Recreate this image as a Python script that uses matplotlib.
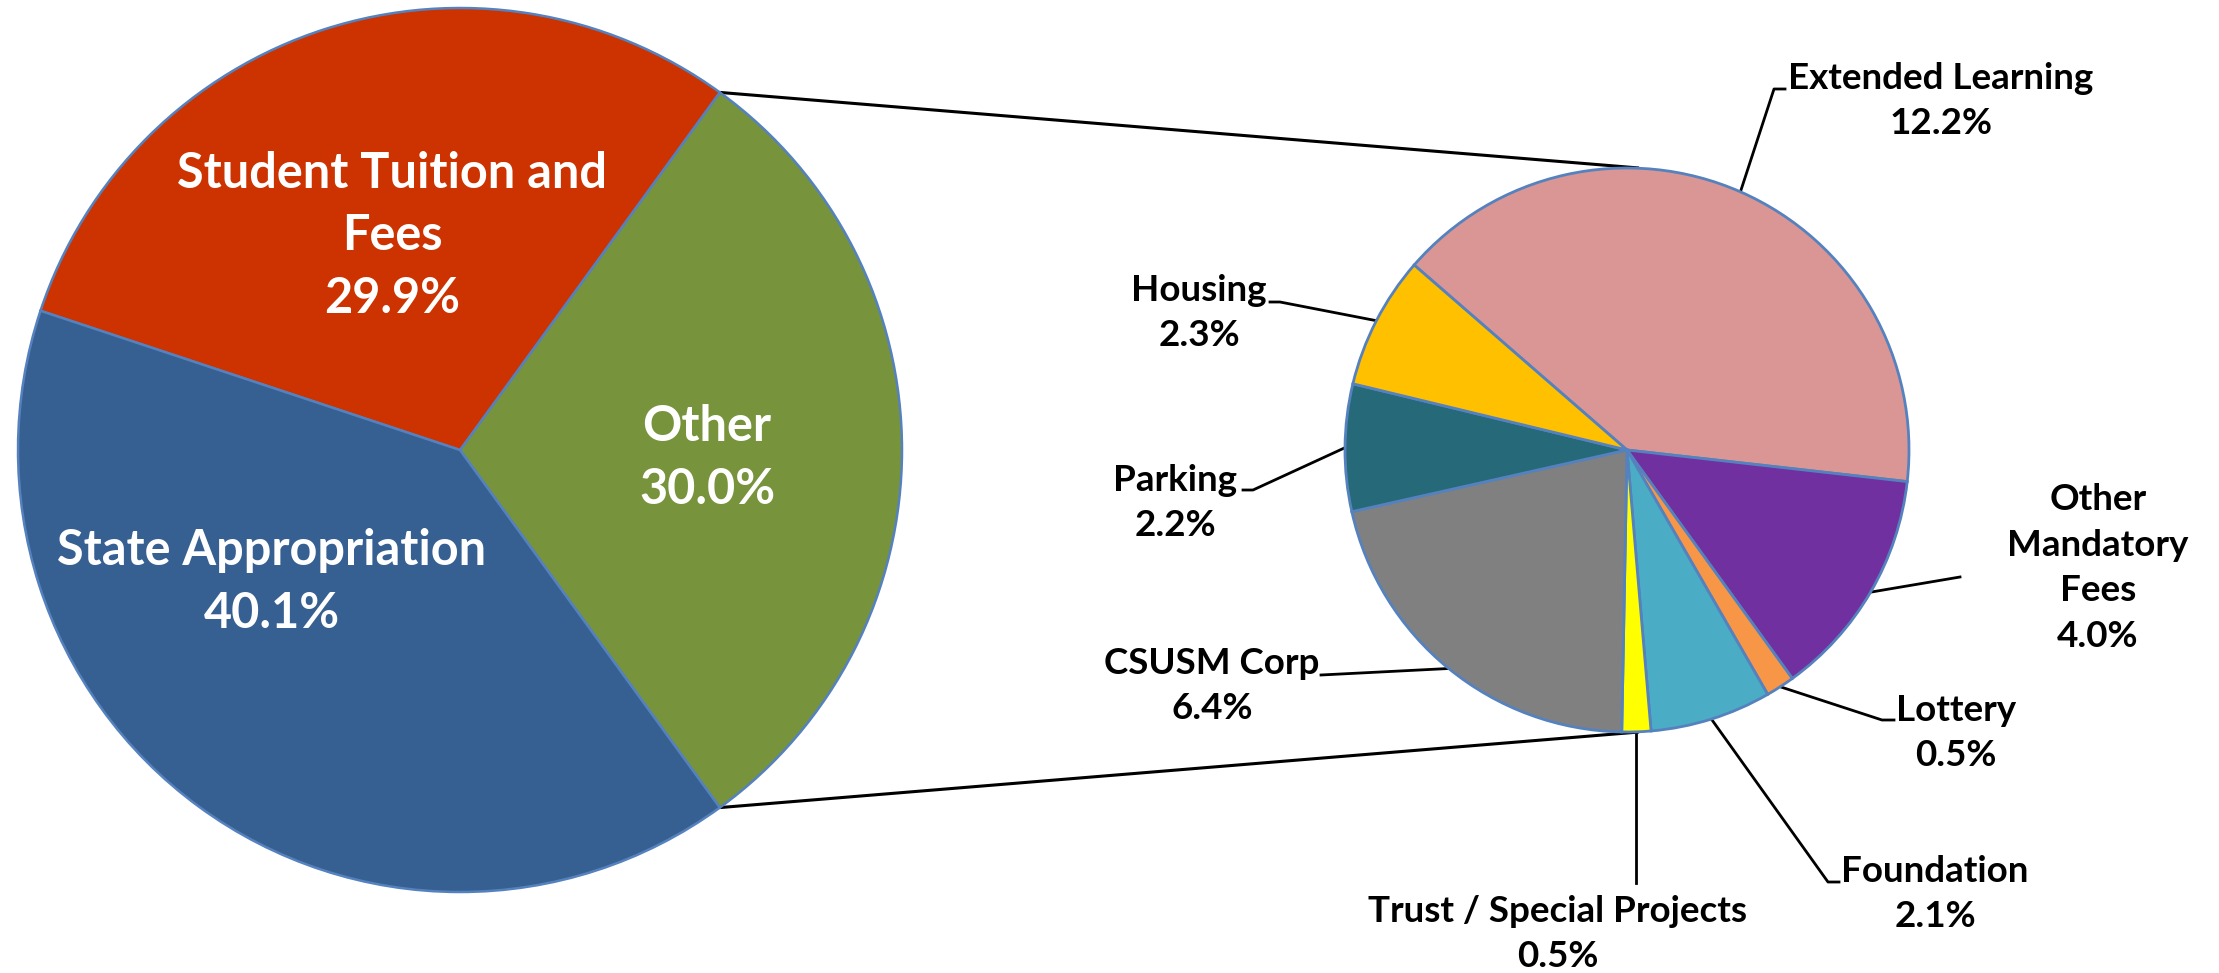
import numpy as np
import matplotlib.pyplot as plt

W, H = 2219, 973

# main pie (share of total revenue)
main_labels = ['Other', 'Student Tuition and\nFees', 'State Appropriation']
main_values = [30.0, 29.9, 40.1]
main_colors = ['#77933C', '#CC3300', '#376092']

# breakdown of "Other"
sub_labels = ['Extended Learning', 'Other\nMandatory\nFees', 'Lottery', 'Foundation',
              'Trust / Special Projects', 'CSUSM Corp', 'Parking', 'Housing']
sub_values = [12.2, 4.0, 0.5, 2.1, 0.5, 6.4, 2.2, 2.3]
sub_colors = ['#D99694', '#7030A0', '#F79646', '#4BACC6',
              '#FFFF00', '#808080', '#266A79', '#FFC000']

FONT = 'Lato'
EDGE = '#5582BE'


def fy(y):
    # pixel row (from top) -> data y
    return H - y


fig = plt.figure(figsize=(W / 100, H / 100), dpi=100)
ax = fig.add_axes([0, 0, 1, 1])

# left pie
c1 = (460, fy(450))
r1 = 442
other_span = main_values[0] / sum(main_values) * 360
w1, _ = ax.pie(main_values, colors=main_colors, center=c1, radius=r1,
               startangle=-other_span / 2, counterclock=True,
               wedgeprops=dict(edgecolor=EDGE, linewidth=1.8))

main_pos = [(707, 458), (392, 236), (272, 582)]
for lab, v, (x, y) in zip(main_labels, main_values, main_pos):
    ax.text(x, fy(y), f'{lab}\n{v:.1f}%', ha='center', va='center', color='white',
            fontsize=35, fontweight='bold', family=FONT, linespacing=1.48)

# right pie
c2 = (1627, fy(450))
r2 = 282
w2, _ = ax.pie(sub_values, colors=sub_colors, center=c2, radius=r2,
               startangle=139, counterclock=False,
               wedgeprops=dict(edgecolor=EDGE, linewidth=2.0))

# connector lines between the two pies
a0 = np.deg2rad(other_span / 2)
for s in (1, -1):
    x0 = c1[0] + r1 * np.cos(a0)
    y0 = c1[1] + s * r1 * np.sin(a0)
    ax.plot([x0, c2[0] + 12], [y0, c2[1] + s * r2], color='black', lw=2.2,
            solid_capstyle='butt', zorder=0)

# labels and leader lines of the breakdown
sub_pos = [(1941, 101), (2098, 568), (1956, 733), (1935, 894),
           (1558, 934), (1212, 686), (1175, 503), (1199, 313)]
elbows = [[(1774, 89), (1785, 89)],
          [(1960, 577)],
          [(1882, 720), (1894, 720)],
          [(1828, 882), (1839, 882)],
          [None],
          [(1321, 675)],
          [(1253, 490), (1243, 490)],
          [(1280, 302), (1270, 302)]]
for w, lab, v, (x, y), pts in zip(w2, sub_labels, sub_values, sub_pos, elbows):
    mid = np.deg2rad((w.theta1 + w.theta2) / 2)
    ex = c2[0] + r2 * np.cos(mid)
    ey = c2[1] + r2 * np.sin(mid)
    xs, ys = [ex], [ey]
    for p in pts:
        if p is None:
            xs.append(ex)
            ys.append(fy(883))
        else:
            xs.append(p[0])
            ys.append(fy(p[1]))
    ax.plot(xs, ys, color='black', lw=2.0, zorder=0.5)
    ax.text(x, fy(y), f'{lab}\n{v:.1f}%', ha='center', va='center', color='black',
            fontsize=26.5, fontweight='bold', family=FONT, linespacing=1.46)

ax.set_xlim(0, W)
ax.set_ylim(0, H)
ax.set_aspect('auto')
ax.set_position([0, 0, 1, 1])
ax.axis('off')

fig.savefig('out.png', dpi=100, facecolor='white')
